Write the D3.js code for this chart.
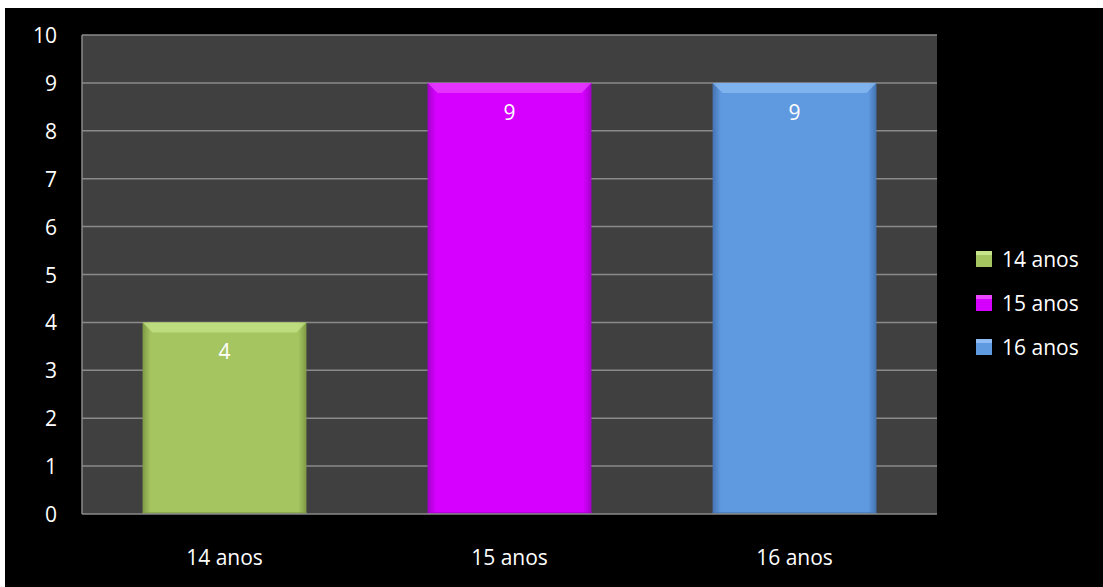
<!DOCTYPE html>
<html><head><meta charset="utf-8">
<script src="https://cdn.jsdelivr.net/npm/d3@7"></script>
<style>html,body{margin:0;padding:0;background:#fff;}svg{display:block;}</style>
</head><body>
<svg id="chart" width="1103" height="587"></svg>
<script>
const categories = ["14 anos", "15 anos", "16 anos"];
const values = [4, 9, 9];
const yTicks = [0,1,2,3,4,5,6,7,8,9,10];
const colors = ["#A5C561", "#D500FF", "#5F99E0"];
const lightColors = ["#C6E58A", "#EA48FF", "#8DBDF4"];
const darkColors = ["#7E9A45", "#A300C8", "#4473B0"];

const svg = d3.select("#chart");
const W = 1103, H = 587;
const font = "'Open Sans', sans-serif";
svg.append("rect").attr("x",5).attr("y",8).attr("width",W-5).attr("height",H-8).attr("fill","#000");

const m = {l:82, t:35, r:937, b:514};
const x = d3.scaleBand().domain(categories).range([m.l, m.r]).paddingInner(0.425).paddingOuter(0.2125);
const y = d3.scaleLinear().domain([0,10]).range([m.b, m.t]);

svg.append("rect").attr("x",m.l).attr("y",m.t).attr("width",m.r-m.l).attr("height",m.b-m.t).attr("fill","#404040");

const defs = svg.append("defs");
categories.forEach((c,i)=>{
  const g = defs.append("linearGradient").attr("id","g"+i).attr("x1","0").attr("x2","1").attr("y1","0").attr("y2","0");
  g.append("stop").attr("offset","0").attr("stop-color",darkColors[i]);
  g.append("stop").attr("offset","0.05").attr("stop-color",colors[i]);
  g.append("stop").attr("offset","0.95").attr("stop-color",colors[i]);
  g.append("stop").attr("offset","1").attr("stop-color",darkColors[i]);
});

// gridlines
svg.append("g").selectAll("line").data(yTicks.filter(d=>d>0)).join("line")
  .attr("x1",m.l).attr("x2",m.r).attr("y1",d=>y(d)).attr("y2",d=>y(d))
  .attr("stroke","#8a8a8a").attr("stroke-width",1.5);
// left border
svg.append("line").attr("x1",m.l).attr("x2",m.l).attr("y1",m.t).attr("y2",m.b).attr("stroke","#8a8a8a").attr("stroke-width",1.5);

// bars
const bars = svg.append("g");
categories.forEach((c,i)=>{
  const bx = x(c), bw = x.bandwidth(), top = y(values[i]), bot = y(0);
  bars.append("rect").attr("x",bx).attr("y",top).attr("width",bw).attr("height",bot-top).attr("fill","url(#g"+i+")");
  bars.append("polygon").attr("points",[[bx,top],[bx+bw,top],[bx+bw-10,top+10],[bx+10,top+10]].map(p=>p.join(",")).join(" "))
    .attr("fill",lightColors[i]).attr("opacity",0.7);
  bars.append("line").attr("x1",bx).attr("x2",bx+bw).attr("y1",bot-1).attr("y2",bot-1).attr("stroke",darkColors[i]).attr("stroke-width",2).attr("opacity",0.6);
  bars.append("text").attr("x",bx+bw/2).attr("y",top+37).attr("text-anchor","middle")
    .attr("fill","#fff").attr("font-family",font).attr("font-size",21).text(values[i]);
});

// bottom axis line
svg.append("line").attr("x1",m.l).attr("x2",m.r).attr("y1",m.b).attr("y2",m.b).attr("stroke","#8a8a8a").attr("stroke-width",1.5);

// y axis
const yAxis = d3.axisLeft(y).tickValues(yTicks).tickSize(0).tickPadding(0);
const ya = svg.append("g").attr("transform","translate(57,0)").call(yAxis);
ya.select(".domain").remove();
ya.selectAll("text").attr("fill","#fff").attr("font-family",font).attr("font-size",21).attr("dy","0.36em");

// x axis
const xAxis = d3.axisBottom(x).tickSize(0).tickPadding(0);
const xa = svg.append("g").attr("transform","translate(0,557)").call(xAxis);
xa.select(".domain").remove();
xa.selectAll("text").attr("fill","#fff").attr("font-family",font).attr("font-size",21).attr("dy","0.36em");

// legend
const leg = svg.append("g");
categories.forEach((c,i)=>{
  const ly = 259 + i*44;
  leg.append("rect").attr("x",976).attr("y",ly-8).attr("width",16).attr("height",16).attr("fill",colors[i]);
  leg.append("rect").attr("x",976).attr("y",ly-8).attr("width",16).attr("height",4).attr("fill",lightColors[i]);
  leg.append("text").attr("x",1002).attr("y",ly).attr("dy","0.36em").attr("fill","#fff")
    .attr("font-family",font).attr("font-size",21).text(c);
});
</script>
</body></html>
